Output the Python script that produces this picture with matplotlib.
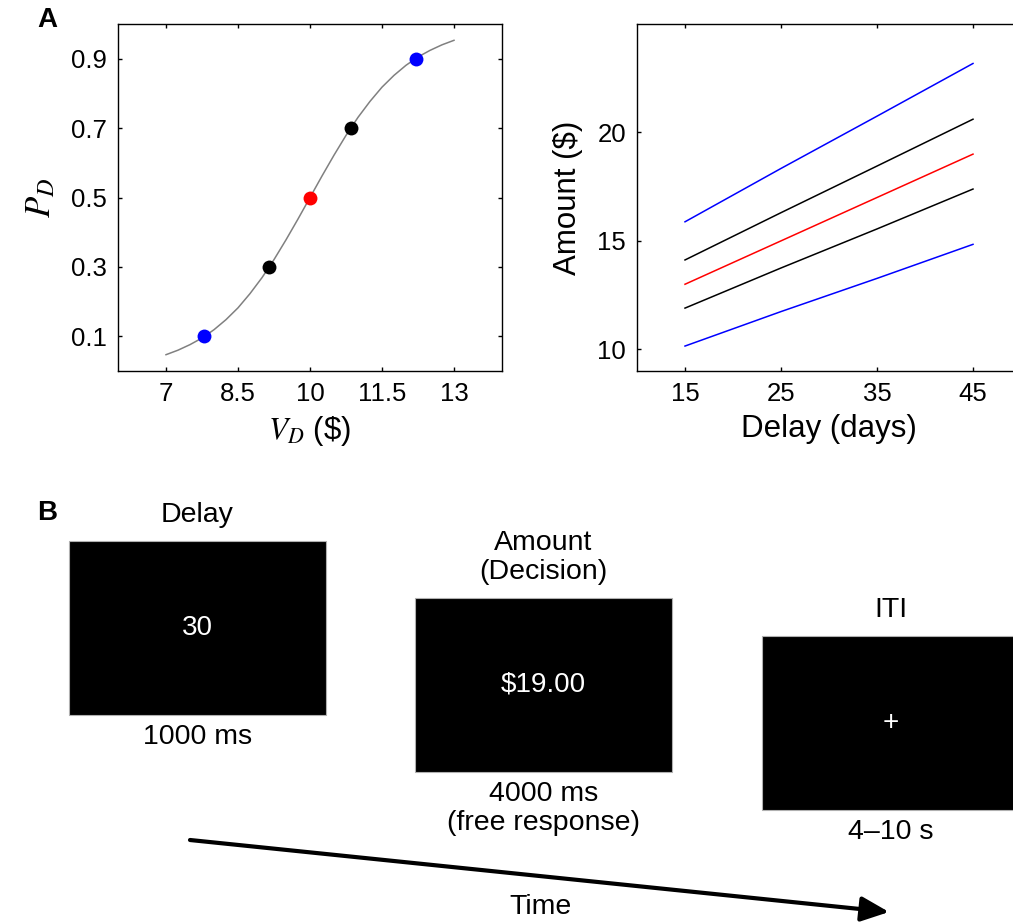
import matplotlib
matplotlib.use('Agg')
import matplotlib.pyplot as plt
from matplotlib.patches import Rectangle

plt.rcParams['font.family'] = ['Liberation Sans', 'DejaVu Sans']
plt.rcParams['mathtext.fontset'] = 'stix'

# Panel A, left: choice curve
vd_curve = [7.0, 7.25, 7.5, 7.75, 8.0, 8.25, 8.5, 8.75, 9.0, 9.25, 9.5, 9.75, 10.0,
            10.25, 10.5, 10.75, 11.0, 11.25, 11.5, 11.75, 12.0, 12.25, 12.5, 12.75, 13.0]
pd_curve = [0.047, 0.060, 0.076, 0.095, 0.119, 0.148, 0.182, 0.223, 0.269, 0.321, 0.378, 0.438, 0.500,
            0.562, 0.622, 0.679, 0.731, 0.777, 0.818, 0.852, 0.881, 0.905, 0.924, 0.940, 0.953]
vd_points = [7.8, 9.15, 10.0, 10.85, 12.2]
pd_points = [0.1, 0.3, 0.5, 0.7, 0.9]
point_colors = ['#0000ff', 'black', '#ff0000', 'black', '#0000ff']

# Panel A, right: amounts per delay
delays = [15, 25, 35, 45]
amount_lines = {
    'blue_hi': [15.88, 18.34, 20.75, 23.18],
    'black_hi': [14.12, 16.30, 18.45, 20.61],
    'red': [13.00, 15.00, 17.00, 19.00],
    'black_lo': [11.90, 13.75, 15.55, 17.39],
    'blue_lo': [10.15, 11.74, 13.27, 14.84],
}
line_colors = ['#0000ff', 'black', '#ff0000', 'black', '#0000ff']

# Panel B: trial structure
screen_titles = ['Delay', 'Amount\n(Decision)', 'ITI']
screen_texts = ['30', '\\$19.00', '+']
screen_times = ['1000 ms', '4000 ms\n(free response)', '4\u201310 s']

W, H = 1013, 923
fig = plt.figure(figsize=(W / 100, H / 100), dpi=100)


def px_axes(x0, y0, x1, y1):
    return fig.add_axes([x0 / W, 1 - y1 / H, (x1 - x0) / W, (y1 - y0) / H])


def style(ax):
    for s in ax.spines.values():
        s.set_linewidth(1.0)
    ax.tick_params(direction='in', top=True, right=True, length=3, width=1,
                   labelsize=18.5, pad=8)


# left plot
ax1 = px_axes(118, 24, 502, 371)
ax1.plot(vd_curve, pd_curve, color='#808080', lw=1.1, zorder=2)
for v, p, c in zip(vd_points, pd_points, point_colors):
    ax1.plot(v, p, 'o', color=c, ms=10, mec='none', zorder=3)
ax1.set_xlim(6, 14)
ax1.set_ylim(0, 1)
ax1.set_xticks([7, 8.5, 10, 11.5, 13])
ax1.set_xticklabels(['7', '8.5', '10', '11.5', '13'])
ax1.set_yticks(pd_points)
ax1.set_yticklabels(['0.1', '0.3', '0.5', '0.7', '0.9'])
style(ax1)
ax1.set_xlabel(r'$V_D$ (\$)', fontsize=22.5, labelpad=6)
ax1.set_ylabel(r'$P_D$', fontsize=25, labelpad=10)

# right plot (runs off the right edge of the figure)
ax2 = px_axes(637, 24, 1021, 371)
for (name, vals), c in zip(amount_lines.items(), line_colors):
    ax2.plot(delays, vals, color=c, lw=1.1)
ax2.set_xlim(10, 50)
ax2.set_ylim(9, 25)
ax2.set_xticks(delays)
ax2.set_yticks([10, 15, 20])
style(ax2)
ax2.set_xlabel('Delay (days)', fontsize=22.5, labelpad=6)
ax2.set_ylabel('Amount (\\$)', fontsize=22.5, labelpad=10)

# panel B drawn in a pixel-coordinate overlay
axb = fig.add_axes([0, 0, 1, 1], zorder=-1)
axb.set_xlim(0, W)
axb.set_ylim(H, 0)
axb.axis('off')

box_left = [69, 415, 762]
box_top = [541, 598, 636]
box_w, box_h = 257, 174
for i in range(3):
    x0, y0 = box_left[i], box_top[i]
    cx = x0 + box_w / 2
    axb.add_patch(Rectangle((x0, y0), box_w, box_h, facecolor='black',
                            edgecolor='#b0b0b0', lw=0.8))
    axb.text(cx, y0 - 19, screen_titles[i], ha='center', va='baseline',
             fontsize=20.5, linespacing=1.15)
    axb.text(cx, y0 + box_h / 2, screen_texts[i], ha='center', va='center',
             fontsize=20, color='white')
    axb.text(cx, y0 + box_h + 9, screen_times[i], ha='center', va='top',
             fontsize=20.5, linespacing=1.15)

axb.annotate('', xy=(889, 912), xytext=(190, 840),
             arrowprops=dict(arrowstyle='-|>,head_length=0.85,head_width=0.38',
                             lw=3, color='black', shrinkA=0, shrinkB=0,
                             mutation_scale=20))
axb.text(540, 907, 'Time', ha='center', va='center', fontsize=20.5)

fig.text(47 / W, 1 - 20 / H, 'A', fontsize=20, fontweight='bold', ha='center', va='center')
fig.text(47 / W, 1 - 513 / H, 'B', fontsize=20, fontweight='bold', ha='center', va='center')

fig.savefig('out.png', dpi=100)
